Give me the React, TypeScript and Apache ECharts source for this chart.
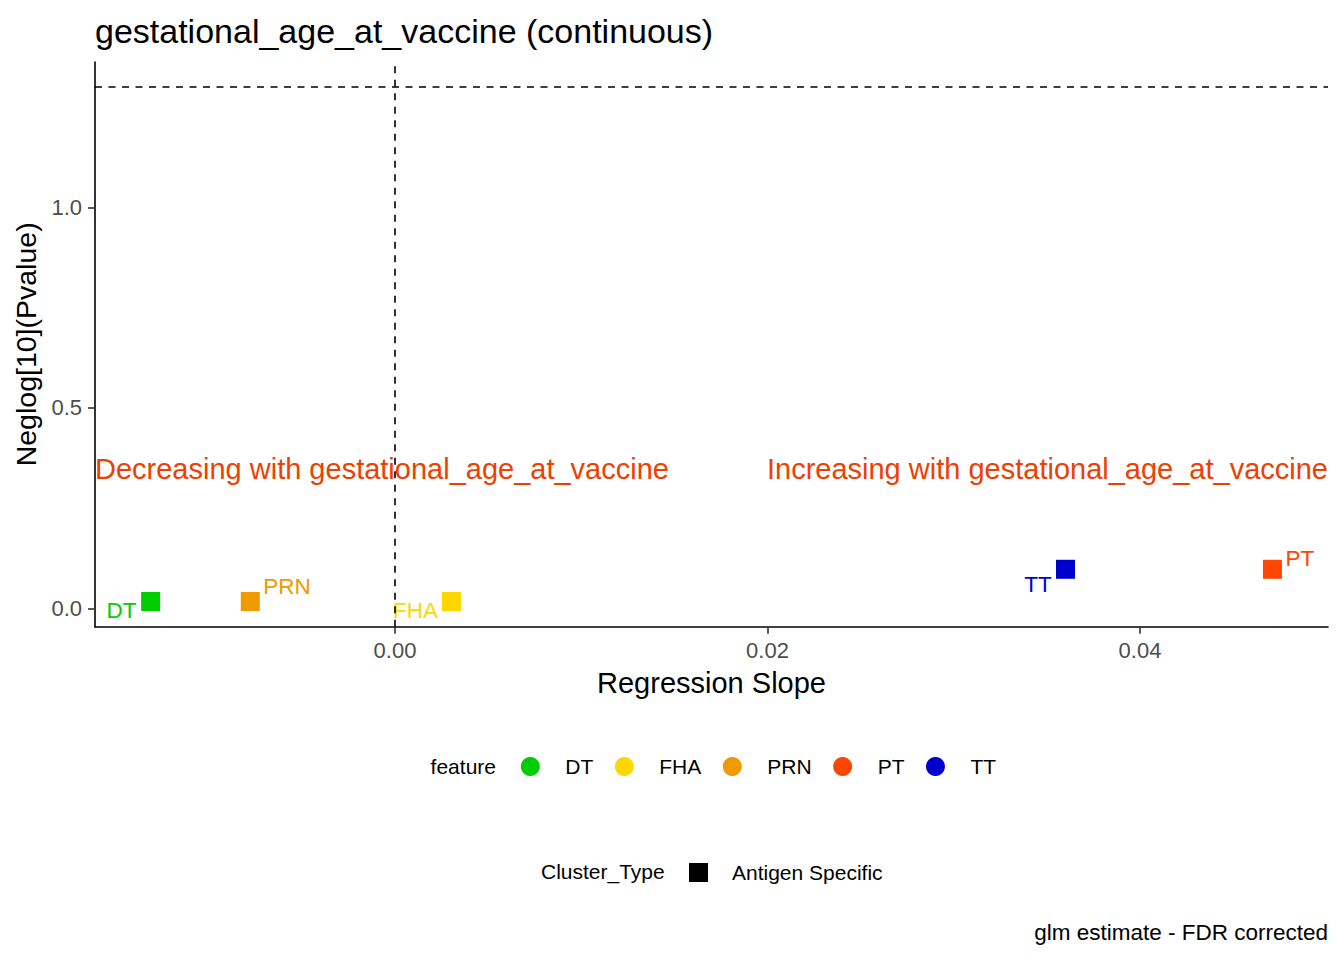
import React, { useEffect, useRef } from "react";
import * as echarts from "echarts";

// ---- data ----
const features = ["DT", "FHA", "PRN", "PT", "TT"];
const slopes = [-0.01312, 0.00303, -0.00777, 0.04711, 0.036];
const negLogP = [0.017, 0.017, 0.017, 0.0973, 0.0973];
const featureColors = ["#00CD00", "#FFD700", "#EE9A00", "#FF4500", "#0000CD"];
const clusterTypes = ["Antigen Specific"];
const xTicks = [0, 0.02, 0.04];
const yTicks = [0, 0.5, 1.0];
const pThreshold = 1.30103; // -log10(0.05)
const slopeZero = 0;
const xRange = [-0.016107, 0.050094];
const yRange = [-0.0459, 1.3625];
const annotationTexts = [
  "Decreasing with gestational_age_at_vaccine",
  "Increasing with gestational_age_at_vaccine",
];
const annotationY = 0.347;

// label offsets (pixels, relative to the point centre) imitating ggrepel placement
const labelOffsets: Record<string, [number, number]> = {
  DT: [-29.2, 8.7],
  FHA: [-36, 9],
  PRN: [36.7, -15.3],
  PT: [27.5, -11.1],
  TT: [-27.5, 15.2],
};

const FONT = "'Liberation Sans', Arial, Helvetica, sans-serif";

export default function App() {
  const ref = useRef<HTMLDivElement>(null);

  useEffect(() => {
    if (!ref.current) return;
    const chart = echarts.init(ref.current, undefined, { renderer: "svg" });

    const featureSeries = features.map((f, i) => ({
      type: "scatter",
      name: f,
      symbol: "rect",
      symbolSize: 19,
      clip: false,
      itemStyle: { color: featureColors[i], opacity: 1 },
      label: {
        show: true,
        formatter: f,
        position: "inside",
        offset: labelOffsets[f],
        color: featureColors[i],
        fontSize: 22.5,
        fontFamily: FONT,
        textBorderWidth: 0,
      },
      data: [[slopes[i], negLogP[i]]],
      ...(i === 0
        ? {
            markLine: {
              silent: true,
              symbol: ["none", "none"],
              label: { show: false },
              lineStyle: { color: "#000000", width: 1.6, type: [7, 6.5], opacity: 1 },
              data: [{ xAxis: slopeZero }, { yAxis: pThreshold }],
            },
          }
        : {}),
    }));

    const clusterSeries = clusterTypes.map((c) => ({
      type: "scatter",
      name: c,
      symbol: "rect",
      itemStyle: { color: "#000000", opacity: 1 },
      data: [],
    }));

    const annotationSeries = {
      type: "scatter",
      name: "annotations",
      symbolSize: 0,
      clip: false,
      silent: true,
      itemStyle: { opacity: 1 },
      data: [
        {
          value: [xRange[0], annotationY],
          label: { position: "right", distance: 0 },
        },
        {
          value: [xRange[1], annotationY],
          label: { position: "left", distance: 0 },
        },
      ],
      label: {
        show: true,
        formatter: (p: any) => annotationTexts[p.dataIndex],
        color: "#EE4000",
        fontSize: 29,
        fontFamily: FONT,
      },
    };

    const legendText = { fontSize: 21, color: "#000000", fontFamily: FONT };

    const option: any = {
      animation: false,
      textStyle: { fontFamily: FONT },
      title: {
        text: "gestational_age_at_vaccine (continuous)",
        left: 95,
        top: 14,
        padding: 0,
        textStyle: { fontSize: 34, fontWeight: "normal", color: "#000000", fontFamily: FONT },
      },
      grid: { left: 95, right: 16, top: 62, bottom: 333.3, containLabel: false },
      xAxis: {
        type: "value",
        min: xRange[0],
        max: xRange[1],
        name: "Regression Slope",
        nameLocation: "middle",
        nameGap: 41.4,
        nameTextStyle: { fontSize: 29, color: "#000000", fontFamily: FONT },
        axisLine: { onZero: false, lineStyle: { color: "#000000", width: 1.6 } },
        axisTick: {
          show: true,
          length: 7,
          customValues: xTicks,
          lineStyle: { color: "#333333", width: 1.6 },
        },
        axisLabel: {
          customValues: xTicks,
          formatter: (v: number) => v.toFixed(2),
          color: "#4D4D4D",
          fontSize: 22,
          margin: 13,
          fontFamily: FONT,
        },
        splitLine: { show: false },
      },
      yAxis: {
        type: "value",
        min: yRange[0],
        max: yRange[1],
        name: "Neglog[10](Pvalue)",
        nameLocation: "middle",
        nameRotate: 90,
        nameGap: 53.4,
        nameTextStyle: { fontSize: 28.5, color: "#000000", fontFamily: FONT },
        axisLine: { onZero: false, lineStyle: { color: "#000000", width: 1.6 } },
        axisTick: {
          show: true,
          length: 7,
          customValues: yTicks,
          lineStyle: { color: "#333333", width: 1.6 },
        },
        axisLabel: {
          customValues: yTicks,
          formatter: (v: number) => v.toFixed(1),
          color: "#4D4D4D",
          fontSize: 22,
          margin: 13,
          fontFamily: FONT,
        },
        splitLine: { show: false },
      },
      legend: [
        {
          left: 520.8,
          top: 756,
          padding: 0,
          orient: "horizontal",
          itemWidth: 19,
          itemHeight: 19,
          itemGap: 21.5,
          selectedMode: false,
          textStyle: { ...legendText, padding: [0, 0, 0, 20.5] },
          data: features.map((f) => ({ name: f, icon: "circle" })),
        },
        {
          left: 689,
          top: 862,
          padding: 0,
          itemWidth: 19,
          itemHeight: 19,
          selectedMode: false,
          textStyle: { ...legendText, padding: [0, 0, 0, 19] },
          data: clusterTypes.map((c) => ({ name: c, icon: "rect" })),
        },
      ],
      graphic: [
        {
          type: "text",
          x: 430.6,
          y: 766,
          style: {
            text: "feature",
            fontSize: 21,
            fontFamily: FONT,
            fill: "#000000",
            align: "left",
            verticalAlign: "middle",
          },
        },
        {
          type: "text",
          x: 541,
          y: 871.5,
          style: {
            text: "Cluster_Type",
            fontSize: 21,
            fontFamily: FONT,
            fill: "#000000",
            align: "left",
            verticalAlign: "middle",
          },
        },
        {
          type: "text",
          x: 1328,
          y: 932.2,
          style: {
            text: "glm estimate - FDR corrected",
            fontSize: 22.5,
            fontFamily: FONT,
            fill: "#000000",
            align: "right",
            verticalAlign: "middle",
          },
        },
      ],
      series: [...featureSeries, ...clusterSeries, annotationSeries],
    };

    chart.setOption(option);
    return () => chart.dispose();
  }, []);

  return (
    <div
      ref={ref}
      style={{ position: "fixed", left: 0, top: 0, width: 1344, height: 960, background: "#ffffff" }}
    />
  );
}
